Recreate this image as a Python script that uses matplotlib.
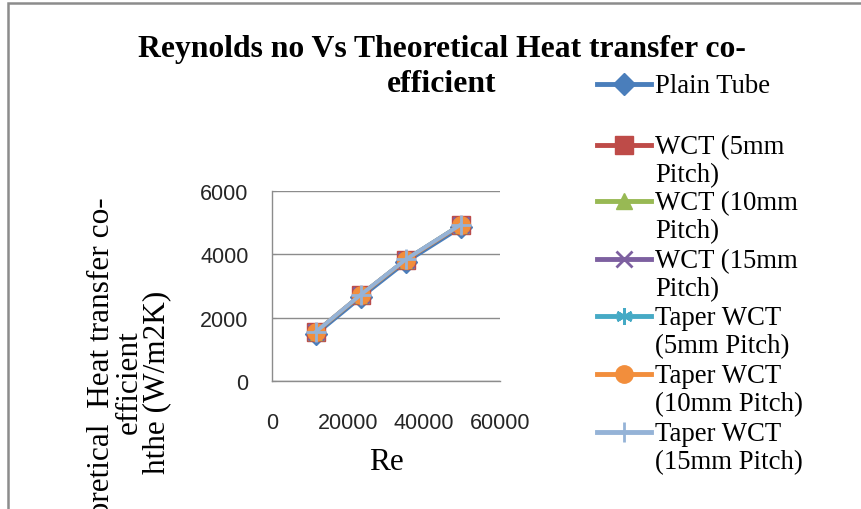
import matplotlib
matplotlib.use("Agg")
import matplotlib.pyplot as plt
from matplotlib.lines import Line2D
from matplotlib.patches import Rectangle

# ---- data ----
re_values = [11600, 23400, 35200, 49700]
plain_tube = [1480, 2640, 3750, 4850]
wct_5mm = [1540, 2710, 3820, 4920]
wct_10mm = [1545, 2715, 3825, 4925]
wct_15mm = [1550, 2720, 3830, 4930]
taper_5mm = [1555, 2725, 3835, 4945]
taper_10mm = [1560, 2725, 3830, 4936]
taper_15mm = [1560, 2730, 3840, 4940]

series_labels = ["Plain Tube", "WCT (5mm\nPitch)", "WCT (10mm\nPitch)", "WCT (15mm\nPitch)",
                 "Taper WCT\n(5mm Pitch)", "Taper WCT\n(10mm Pitch)", "Taper WCT\n(15mm Pitch)"]
series_values = [plain_tube, wct_5mm, wct_10mm, wct_15mm, taper_5mm, taper_10mm, taper_15mm]
x_ticks = [0, 20000, 40000, 60000]
y_ticks = [0, 2000, 4000, 6000]

title_lines = ["Reynolds no Vs Theoretical Heat transfer co-", "efficient"]
xlabel_text = "Re"
ylabel_text = "Theoretical  Heat transfer co-\nefficient\nhthe (W/m2K)"

colors = ["#4A7EBB", "#BE4B48", "#98B954", "#7D60A0", "#46AAC5", "#F28E3C", "#95B3D7"]
markers = ["D", "s", "^", "x", (6, 2, 0), "o", "+"]
msizes = [11, 13, 12, 11, 12, 12.5, 14]

W, H = 862, 510
fig = plt.figure(figsize=(W / 100, H / 100), dpi=100)

def fx(px):
    return px / W

def fy(py):
    return 1 - py / H

def mew(m):
    return 2 if m in ("x", "+") or isinstance(m, tuple) else 1

# chart border (cropped)
fig.add_artist(Rectangle((fx(8), fy(560)), fx(900) - fx(8), fy(4) - fy(560),
                         transform=fig.transFigure, fill=False, edgecolor="#8C8C8C", lw=1.8))

ax = fig.add_axes([fx(272), fy(382), fx(500) - fx(272), fy(192) - fy(382)])
for vals, c, m, ms in zip(series_values, colors, markers, msizes):
    ax.plot(re_values, vals, color=c, lw=2.8, marker=m, markersize=ms,
            markeredgecolor=c, markerfacecolor=c, markeredgewidth=mew(m))

ax.set_xlim(0, 60000)
ax.set_ylim(0, 6000)
ax.set_xticks(x_ticks)
ax.set_yticks(y_ticks)
ax.set_xticklabels([str(t) for t in x_ticks])
ax.set_yticklabels([str(t) for t in y_ticks])
ax.yaxis.grid(True, color="#8C8C8C", lw=1)
ax.set_axisbelow(True)
for s in ("top", "right"):
    ax.spines[s].set_visible(False)
for s in ("left", "bottom"):
    ax.spines[s].set_color("#8C8C8C")
    ax.spines[s].set_linewidth(1)
ax.tick_params(axis="y", direction="in", length=3, color="#8C8C8C", pad=17)
ax.tick_params(axis="x", length=0, pad=22)
for lab in ax.get_xticklabels() + ax.get_yticklabels():
    lab.set_fontfamily("Liberation Sans")
    lab.set_fontsize(15.5)
    lab.set_color("#262626")

ax.set_xlabel(xlabel_text, fontfamily="Liberation Serif", fontsize=22.5)
ax.xaxis.label.set_va("baseline")
ax.xaxis.set_label_coords(0.5, (382 - 470) / 190)

# title, two wrapped lines as in the reference
for i, tl in enumerate(title_lines):
    fig.text(fx(442), fy(57 + i * 35), tl, ha="center", va="baseline", fontfamily="Liberation Serif",
             fontweight="bold", fontsize=22.8)

# y label (partially cropped, as in reference)
fig.text(fx(129), fy(382), ylabel_text, rotation=90, ha="center", va="center", rotation_mode="anchor",
         fontfamily="Liberation Serif", fontsize=22.5, linespacing=0.95, multialignment="center")

# legend (Excel style: marker aligned with first line of label)
leg_y = [85, 146, 202, 260, 317, 375, 433]
for lab, c, m, ms, yy in zip(series_labels, colors, markers, msizes, leg_y):
    fig.add_artist(Line2D([fx(597), fx(651)], [fy(yy), fy(yy)], transform=fig.transFigure,
                          color=c, lw=3.5))
    fig.add_artist(Line2D([fx(624)], [fy(yy)], transform=fig.transFigure, color=c, marker=m,
                          markersize=ms, markeredgecolor=c, markerfacecolor=c,
                          markeredgewidth=mew(m)))
    for i, line in enumerate(lab.split("\n")):
        fig.text(fx(655), fy(yy + 8 + i * 28), line, ha="left", va="baseline",
                 fontfamily="Liberation Serif", fontsize=19.3)

fig.savefig("out.png", dpi=100)
